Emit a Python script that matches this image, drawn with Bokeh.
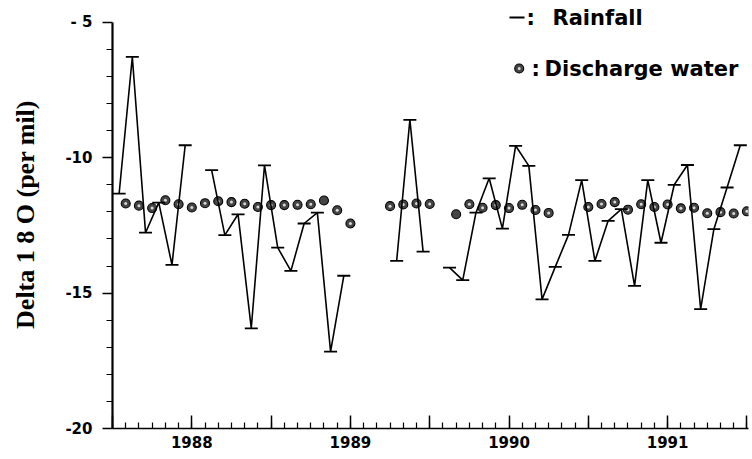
import math
from bokeh.plotting import figure
from bokeh.models import FixedTicker, Range1d
from bokeh.core.properties import value
from bokeh.embed import file_html
from bokeh.resources import INLINE

nan = float("nan")

# ---- data -------------------------------------------------------------
# first month of the record: July 1987 (decimal year 1987.5)
start_year = 1987.5

# monthly rainfall delta 18O (per mil), Jul 1987 .. Jun 1991, NaN = no sample
rainfall = [-11.33, -6.28, -12.77, -11.66, -13.96, -9.54,
            nan, -10.46, -12.86, -12.09, -16.30, -10.28,
            -13.32, -14.18, -12.43, -12.03, -17.16, -14.36,
            nan, nan, nan, -13.81, -8.60, -13.47,
            nan, -14.06, -14.52, -12.03, -10.76, -12.62,
            -9.56, -10.30, -15.23, -14.03, -12.85, -10.83,
            -13.81, -12.33, -11.90, -14.73, -10.83, -13.14,
            -11.00, -10.27, -15.59, -12.64, -11.10, -9.54]

# discharge water delta 18O, sampled at month ends (Aug 1 1987 .. Jul 1 1991)
discharge = [-11.69, -11.77, -11.86, -11.57, -11.72, -11.84,
             -11.68, -11.61, -11.64, -11.70, -11.82, -11.75,
             -11.75, -11.74, -11.72, -11.58, -11.94, -12.43,
             nan, nan, -11.79, -11.73, -11.69, -11.71,
             nan, -12.09, -11.72, -11.85, -11.75, -11.86,
             -11.74, -11.93, -12.04, nan, nan, -11.82,
             -11.71, -11.64, -11.92, -11.72, -11.82, -11.73,
             -11.87, -11.85, -12.05, -12.01, -12.06, -11.98]
discharge_solid = [16, 26]   # sample numbers drawn as solid dots

year_ticks = [1988, 1989, 1990, 1991]
year_labels = ["1988", "1989", "1990", "1991"]
y_ticks = [-20, -15, -10, -5]
y_labels = ["-20", "-15", "-10", "- 5"]
legend_labels = ["Rainfall", "Discharge water"]
y_title = "Delta 1 8 O (per mil)"

# ---- geometry ----------------------------------------------------------
W, H = 750, 456
BL, BR, BT, BB = 112, 2, 0, 28
X0, X1 = 1987.5, 1991.51
Y0 = -20.0
PX_PER_UNIT = 27.08
Y1 = Y0 + (H - BT - BB) / PX_PER_UNIT


def sx(px):
    fx = px - BL
    return X0 + fx / (W - BL - BR) * (X1 - X0)


def sy(py):
    fy = py - BT
    return Y1 - fy / (H - BT - BB) * (Y1 - Y0)


p = figure(width=W, height=H, x_range=Range1d(X0, X1), y_range=Range1d(Y0, Y1),
           output_backend="svg", toolbar_location=None,
           min_border_left=BL, min_border_right=BR,
           min_border_top=BT, min_border_bottom=BB)
p.outline_line_color = None
p.xgrid.visible = False
p.ygrid.visible = False
p.background_fill_color = "white"
p.border_fill_color = "white"

# ---- axes --------------------------------------------------------------
major_x = [1987.5] + [y + h for y in year_ticks for h in (0.0, 0.5)]
minor_x = [start_year + i / 12 for i in range(0, 49)]
p.xaxis.ticker = FixedTicker(ticks=major_x, minor_ticks=minor_x)
overrides = {}
for t in major_x:
    overrides[t] = ""
for t, lab in zip(year_ticks, year_labels):
    overrides[t] = lab
p.xaxis.major_label_overrides = overrides
p.xaxis.major_tick_in = 13
p.xaxis.major_tick_out = 0
p.xaxis.minor_tick_in = 6
p.xaxis.minor_tick_out = 0
p.xaxis.axis_line_width = 1.6
p.xaxis.major_tick_line_width = 1.5
p.xaxis.minor_tick_line_width = 1.2
p.xaxis.major_label_text_font = "DejaVu Sans"
p.xaxis.major_label_text_font_style = "bold"
p.xaxis.major_label_text_font_size = "15px"
p.xaxis.major_label_text_color = "black"
p.xaxis.major_label_standoff = 7

p.yaxis.ticker = FixedTicker(ticks=y_ticks, minor_ticks=list(range(-19, -5)))
p.yaxis.bounds = (-20, -5)
p.yaxis.major_label_overrides = dict(zip(y_ticks, y_labels))
p.yaxis.major_tick_out = 10
p.yaxis.major_tick_in = 0
p.yaxis.minor_tick_out = 6
p.yaxis.minor_tick_in = 0
p.yaxis.axis_line_width = 2.2
p.yaxis.major_tick_line_width = 1.5
p.yaxis.minor_tick_line_width = 1.2
p.yaxis.major_label_text_font = "DejaVu Sans"
p.yaxis.major_label_text_font_style = "bold"
p.yaxis.major_label_text_font_size = "15px"
p.yaxis.major_label_text_color = "black"
p.yaxis.major_label_standoff = 10
p.yaxis.axis_label = y_title
p.yaxis.axis_label_text_font = "Liberation Serif"
p.yaxis.axis_label_text_font_style = "bold"
p.yaxis.axis_label_text_font_size = "26px"
p.yaxis.axis_label_text_color = "black"
p.yaxis.axis_label_standoff = 22

# ---- data marks ---------------------------------------------------------
dx = [start_year + (i + 1) / 12 for i, v in enumerate(discharge) if not math.isnan(v)]
dy = [v for v in discharge if not math.isnan(v)]
spx = [start_year + (i + 1) / 12 for i, v in enumerate(discharge)
       if not math.isnan(v) and (i + 1) not in discharge_solid]
spy = [v for i, v in enumerate(discharge)
       if not math.isnan(v) and (i + 1) not in discharge_solid]
p.scatter(dx, dy, marker="circle", size=9, fill_color="#454545",
          line_color="black", line_width=1.1)
p.scatter(spx, spy, marker="circle", size=3, fill_color="#d8d8d8", line_color=None)

rx = [start_year + (i + 0.5) / 12 for i in range(len(rainfall))]
p.line(rx, rainfall, line_color="black", line_width=1.6)
rxv = [x for x, v in zip(rx, rainfall) if not math.isnan(v)]
ryv = [v for v in rainfall if not math.isnan(v)]
p.scatter(rxv, ryv, marker="dash", size=13, line_color="black", line_width=1.8)

# ---- legend -------------------------------------------------------------
leg_font = dict(text_font=value("DejaVu Sans"), text_font_style="bold",
                text_font_size="21px", text_baseline="middle", text_align="left",
                text_color="black")
p.scatter([sx(516.5)], [sy(17)], marker="dash", size=15, line_color="black", line_width=2.2)
p.text([sx(526)], [sy(17.5)], text=[":"], **leg_font)
p.text([sx(552)], [sy(17.5)], text=[legend_labels[0]], **leg_font)
p.scatter([sx(518.7)], [sy(68)], marker="circle", size=9, fill_color="#454545",
          line_color="black", line_width=1.1)
p.scatter([sx(518.7)], [sy(68)], marker="circle", size=3, fill_color="#d8d8d8", line_color=None)
p.text([sx(531)], [sy(68)], text=[":"], **leg_font)
p.text([sx(544)], [sy(68)], text=[legend_labels[1]], **leg_font)

open("out.html", "w").write(file_html(p, INLINE))
